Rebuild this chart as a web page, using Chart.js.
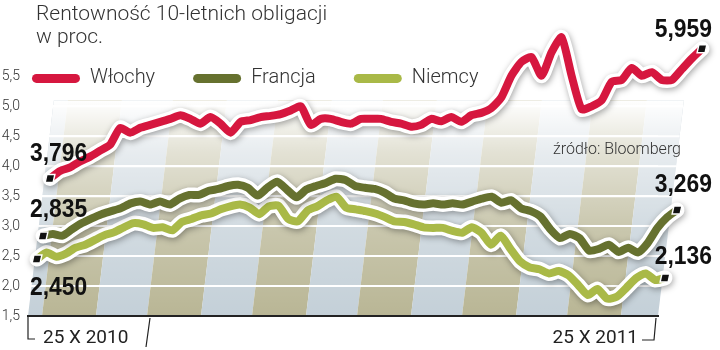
<!DOCTYPE html>
<html><head><meta charset="utf-8">
<script src="https://cdn.jsdelivr.net/npm/chart.js@4.4.0/dist/chart.umd.min.js"></script>
<style>html,body{margin:0;padding:0;background:#fff;}canvas{display:block;}</style>
</head><body>
<canvas id="c" width="720" height="350"></canvas>
<script>
const titleLines = ['Rentowność 10-letnich obligacji', 'w proc.'];
const seriesNames = ['Włochy', 'Francja', 'Niemcy'];
const italy = [3.796, 3.92, 3.98, 4.08, 4.16, 4.26, 4.36, 4.64, 4.56, 4.64, 4.69, 4.74, 4.79, 4.85, 4.79, 4.71, 4.82, 4.71, 4.56, 4.74, 4.77, 4.82, 4.84, 4.87, 4.93, 5.00, 4.69, 4.79, 4.79, 4.74, 4.71, 4.79, 4.79, 4.79, 4.74, 4.71, 4.66, 4.69, 4.79, 4.75, 4.82, 4.74, 4.85, 4.89, 4.97, 5.15, 5.51, 5.74, 5.82, 5.51, 5.90, 6.15, 5.51, 4.95, 5.00, 5.10, 5.41, 5.44, 5.64, 5.51, 5.57, 5.44, 5.44, 5.62, 5.80, 5.959];
const france = [2.835, 2.87, 2.84, 2.95, 3.05, 3.13, 3.20, 3.25, 3.30, 3.38, 3.41, 3.36, 3.41, 3.36, 3.46, 3.52, 3.52, 3.59, 3.62, 3.67, 3.69, 3.64, 3.51, 3.64, 3.74, 3.61, 3.48, 3.61, 3.67, 3.72, 3.79, 3.77, 3.67, 3.64, 3.62, 3.56, 3.46, 3.43, 3.38, 3.36, 3.38, 3.36, 3.38, 3.36, 3.41, 3.46, 3.49, 3.39, 3.43, 3.30, 3.25, 3.16, 2.95, 2.80, 2.87, 2.80, 2.59, 2.62, 2.69, 2.57, 2.64, 2.56, 2.72, 2.97, 3.15, 3.269];
const germany = [2.45, 2.56, 2.49, 2.54, 2.64, 2.69, 2.77, 2.85, 2.90, 2.98, 3.05, 3.03, 2.97, 2.98, 2.93, 3.07, 3.12, 3.18, 3.21, 3.28, 3.33, 3.36, 3.31, 3.20, 3.33, 3.34, 3.12, 3.08, 3.26, 3.33, 3.43, 3.49, 3.31, 3.28, 3.25, 3.21, 3.15, 3.08, 3.07, 3.03, 2.98, 2.97, 2.97, 2.92, 2.89, 2.98, 2.89, 2.69, 2.84, 2.62, 2.41, 2.31, 2.28, 2.21, 2.25, 2.18, 2.02, 1.85, 1.95, 1.79, 1.82, 1.97, 2.13, 2.21, 2.10, 2.136];
const yTicks = [1.5, 2.0, 2.5, 3.0, 3.5, 4.0, 4.5, 5.0, 5.5];
const xTickLabels = ['25 X 2010', '25 X 2011'];
const sourceText = 'źródło: Bloomberg';

const COLORS = ['#d6173f', '#66712f', '#a9b947'];
const fmt = v => v.toFixed(3).replace('.', ',');
const toPoints = arr => arr.map((v, i) => ({x: i, y: v}));

function makeSeries(name, arr, color, axisId, order) {
  return [
    {label: name + ' outline', data: toPoints(arr), xAxisID: axisId, outline: true,
     borderColor: '#ffffff', backgroundColor: '#ffffff', borderWidth: 15, pointRadius: 0,
     tension: 0.2, clip: false, order: order + 1, borderJoinStyle: 'round', borderCapStyle: 'round'},
    {label: name, data: toPoints(arr), xAxisID: axisId,
     borderColor: color, backgroundColor: color, borderWidth: 8, pointRadius: 0,
     tension: 0.2, clip: false, order: order, borderJoinStyle: 'round', borderCapStyle: 'round'}
  ];
}

const datasets = [
  ...makeSeries(seriesNames[0], italy, COLORS[0], 'x', 1),
  ...makeSeries(seriesNames[1], france, COLORS[1], 'xF', 3),
  ...makeSeries(seriesNames[2], germany, COLORS[2], 'xN', 5)
];
const lineIdx = [1, 3, 5];
const seriesArr = [italy, france, germany];

const stripesPlugin = {
  id: 'stripes',
  beforeDraw(chart) {
    const {ctx, chartArea: a} = chart;
    const ys = chart.scales.y;
    ctx.save();
    ctx.fillStyle = '#fff';
    ctx.fillRect(0, 0, chart.width, chart.height);
    const bottom = a.bottom;
    const top = ys.getPixelForValue(5.0) - 6;
    const h = bottom - top;
    const k = 0.12;
    ctx.beginPath();
    ctx.moveTo(a.left, bottom);
    ctx.lineTo(a.right, bottom);
    ctx.lineTo(a.right + k * h, top);
    ctx.lineTo(a.left + k * h, top);
    ctx.closePath();
    ctx.clip();
    const period = 105, w = 54;
    const start = a.left + 14 - 2 * period;
    for (let x0 = start; x0 < a.right + 120; x0 += period) {
      const quad = (xa, xb, col) => {
        ctx.beginPath();
        ctx.moveTo(xa, bottom); ctx.lineTo(xb, bottom);
        ctx.lineTo(xb + k * h, top); ctx.lineTo(xa + k * h, top);
        ctx.closePath(); ctx.fillStyle = col; ctx.fill();
      };
      quad(x0, x0 + w, '#b9b695');
      quad(x0 + w, x0 + period, '#c4d0d8');
    }
    const g = ctx.createLinearGradient(0, bottom, 0, top);
    g.addColorStop(0, 'rgba(255,255,255,0)');
    g.addColorStop(0.39, 'rgba(255,255,255,0.22)');
    g.addColorStop(0.76, 'rgba(255,255,255,0.6)');
    g.addColorStop(1, 'rgba(255,255,255,1)');
    ctx.fillStyle = g;
    ctx.fillRect(a.left - 5, top, a.right - a.left + 80, h + 2);
    // white gridlines continued over the slanted right part of the background
    ctx.strokeStyle = '#ffffff';
    ctx.lineWidth = 2;
    yTicks.filter(v => v > 1.5).forEach(v => {
      const py = ys.getPixelForValue(v);
      ctx.beginPath();
      ctx.moveTo(a.left, py);
      ctx.lineTo(a.right + k * (bottom - py) + 2, py);
      ctx.stroke();
    });
    ctx.restore();
  }
};

const shadowPlugin = {
  id: 'lineShadow',
  beforeDatasetDraw(chart, args) {
    if (chart.data.datasets[args.index].outline) {
      const ctx = chart.ctx;
      ctx.save();
      ctx.shadowColor = 'rgba(0,0,0,0.35)';
      ctx.shadowBlur = 6;
      ctx.shadowOffsetX = 1;
      ctx.shadowOffsetY = 2;
    }
  },
  afterDatasetDraw(chart, args) {
    if (chart.data.datasets[args.index].outline) chart.ctx.restore();
  }
};

// end-point markers (drawn at the library's point positions, also outside the plot area)
const markerPlugin = {
  id: 'endMarkers',
  afterDatasetsDraw(chart) {
    const ctx = chart.ctx;
    lineIdx.forEach((di, s) => {
      const meta = chart.getDatasetMeta(di);
      const n = seriesArr[s].length;
      [meta.data[0], meta.data[n - 1]].forEach(p => {
        ctx.save();
        ctx.translate(p.x, p.y);
        ctx.transform(1, 0, -0.22, 1, 0, 0);
        ctx.fillStyle = '#111';
        ctx.strokeStyle = '#fff';
        ctx.lineWidth = 1.5;
        ctx.beginPath();
        ctx.rect(-4, -4, 8, 8);
        ctx.fill();
        ctx.stroke();
        ctx.restore();
      });
    });
  }
};

// legend overlays the plot (takes no layout space), placed inside it
const legendPlacePlugin = {
  id: 'legendPlace',
  beforeLayout(chart) {
    const lg = chart.legend;
    if (lg && !lg._zeroFit) {
      const origFit = lg.fit;
      lg.fit = function () { origFit.call(this); this.height = 0; };
      lg._zeroFit = true;
    }
  },
  afterLayout(chart) {
    const lg = chart.legend;
    if (!lg) return;
    const pad = lg.options.labels.padding;
    lg.left = chart.chartArea.left + 4 - pad;
    lg.right = chart.width;
    lg.top = chart.chartArea.top + 14;
    lg.bottom = lg.top + 80;
    lg.width = lg.right - lg.left;
    lg.height = lg.bottom - lg.top;
  }
};

const bigText = (ctx, txt, x, y, align) => {
  ctx.save();
  ctx.translate(x, y);
  ctx.scale(0.88, 1);
  ctx.textAlign = align;
  ctx.fillText(txt, 0, 0);
  ctx.restore();
};

const textPlugin = {
  id: 'texts',
  afterDraw(chart) {
    const {ctx, chartArea: a} = chart;
    ctx.save();
    ctx.fillStyle = '#333';
    ctx.textBaseline = 'alphabetic';
    ctx.font = '300 21px Roboto';
    ctx.textAlign = 'left';
    ctx.fillText(titleLines[0], 36, 20);
    ctx.fillText(titleLines[1], 36, 43);
    ctx.font = '300 16px Roboto';
    ctx.textAlign = 'right';
    ctx.fillText(sourceText, 681, 154);
    ctx.fillStyle = '#222';
    ctx.font = '400 19px Roboto';
    ctx.textAlign = 'left';
    ctx.fillText(xTickLabels[0], a.left + 15, a.bottom + 27);
    ctx.textAlign = 'right';
    ctx.fillText(xTickLabels[1], a.right - 20, a.bottom + 27);
    ctx.strokeStyle = '#222';
    ctx.lineWidth = 1.2;
    ctx.beginPath();
    ctx.moveTo(a.left, a.bottom + 1); ctx.lineTo(a.left, a.bottom + 23); ctx.lineTo(a.left + 7, a.bottom + 23);
    ctx.moveTo(a.left + 122, a.bottom + 2); ctx.lineTo(a.left + 118, a.bottom + 31);
    ctx.moveTo(a.right - 2, a.bottom + 2); ctx.lineTo(a.right - 4, a.bottom + 24); ctx.lineTo(a.right - 16, a.bottom + 24);
    ctx.stroke();
    ctx.fillStyle = '#111';
    ctx.font = 'bold 26px "Liberation Sans Narrow", "Liberation Sans", sans-serif';
    const startDy = [-17, -19, 36];
    const endDy = [-12, -18, -14];
    lineIdx.forEach((di, s) => {
      const meta = chart.getDatasetMeta(di);
      const arr = seriesArr[s];
      const p0 = meta.data[0], p1 = meta.data[arr.length - 1];
      bigText(ctx, fmt(arr[0]), a.left + 2, p0.y + startDy[s], 'left');
      bigText(ctx, fmt(arr[arr.length - 1]), 712, p1.y + endDy[s], 'right');
    });
    ctx.restore();
  }
};

const bounds = (lo, hi) => s => { s.min = lo; s.max = hi; };

new Chart(document.getElementById('c'), {
  type: 'line',
  data: {datasets},
  options: {
    responsive: false,
    animation: false,
    devicePixelRatio: 1,
    layout: {padding: {left: 0, right: 62, top: 11, bottom: 34}},
    plugins: {
      tooltip: {enabled: false},
      legend: {
        position: 'top',
        align: 'start',
        labels: {
          boxWidth: 48, boxHeight: 9, useBorderRadius: true, borderRadius: 4.5,
          padding: 38, color: '#333',
          font: {family: 'Roboto', size: 20, weight: '300'},
          filter: (item, data) => !data.datasets[item.datasetIndex].outline,
          generateLabels: chart => Chart.defaults.plugins.legend.labels.generateLabels(chart).map(it =>
            Object.assign(it, {lineWidth: 0, fillStyle: chart.data.datasets[it.datasetIndex].borderColor}))
        }
      }
    },
    scales: {
      x: {type: 'linear', display: true, bounds: 'data', afterDataLimits: bounds(-2.193, 60.614),
          grid: {display: false, drawTicks: false}, ticks: {display: false},
          border: {display: true, color: '#222', width: 2}},
      xF: {type: 'linear', display: false, bounds: 'data', afterDataLimits: bounds(-1.538, 63.052)},
      xN: {type: 'linear', display: false, bounds: 'data', afterDataLimits: bounds(-0.9315, 64.275)},
      y: {
        min: 1.5, max: 6.5,
        afterBuildTicks: s => { s.ticks = yTicks.map(v => ({value: v})); },
        afterFit: s => { s.width = 28; },
        border: {display: false},
        grid: {drawTicks: false, lineWidth: 2,
               color: c => (c.tick && c.tick.value > 1.5) ? '#ffffff' : 'rgba(0,0,0,0)'},
        ticks: {padding: 8, color: '#333', font: {family: 'Roboto', size: 14, weight: '300'},
                callback: v => Number(v).toFixed(1).replace('.', ',')}
      }
    }
  },
  plugins: [stripesPlugin, shadowPlugin, markerPlugin, legendPlacePlugin, textPlugin]
});
</script>
</body></html>
